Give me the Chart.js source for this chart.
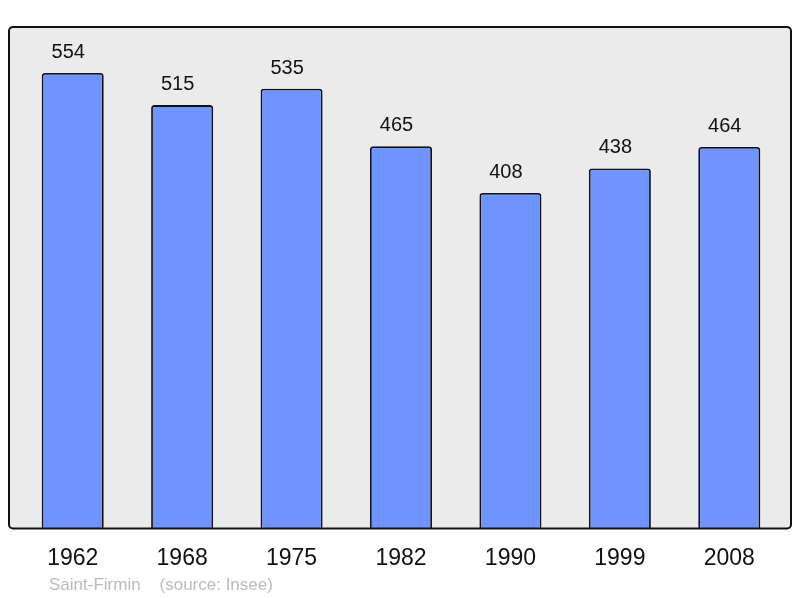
<!DOCTYPE html>
<html>
<head>
<meta charset="utf-8">
<script src="https://cdn.jsdelivr.net/npm/chart.js@4/dist/chart.umd.min.js"></script>
<style>
    body { margin: 0; background: #fff; }
    #wrap { position: relative; width: 800px; height: 598px; }
    #footer {
        position: absolute; left: 49px; top: 575px;
        font: 17px "Liberation Sans", Arial, sans-serif; color: #bbbbbb;
        white-space: pre;
    }
</style>
</head>
<body>
<div id="wrap">
    <canvas id="chart" width="800" height="598"></canvas>
    <div id="footer">Saint-Firmin    (source: Insee)</div>
</div>
<script>
const years = ['1962', '1968', '1975', '1982', '1990', '1999', '2008'];
const population = [554, 515, 535, 465, 408, 438, 464];

// grey rounded panel behind the bars, a bit wider than the chart area
const panelPlugin = {
    id: 'panel',
    beforeDraw(chart) {
        const { ctx, chartArea: a } = chart;
        ctx.save();
        ctx.beginPath();
        ctx.roundRect(a.left - 9, a.top, a.right - a.left + 16, a.bottom - a.top, 4);
        ctx.fillStyle = '#ebebeb';
        ctx.fill();
        ctx.restore();
    },
    afterDatasetsDraw(chart) {
        const { ctx, chartArea: a } = chart;
        ctx.save();
        ctx.beginPath();
        ctx.roundRect(a.left - 9, a.top, a.right - a.left + 16, a.bottom - a.top, 4);
        ctx.lineWidth = 2;
        ctx.strokeStyle = '#111';
        ctx.stroke();
        // value labels above the bars (sit slightly left of centre in the original)
        const meta = chart.getDatasetMeta(0);
        ctx.font = '20px "Liberation Sans", Arial, sans-serif';
        ctx.fillStyle = '#111';
        ctx.textAlign = 'center';
        ctx.textBaseline = 'middle';
        meta.data.forEach((bar, i) => {
            ctx.fillText(population[i], bar.x - 4.5, bar.y - 20.5);
        });
        ctx.restore();
    }
};

new Chart(document.getElementById('chart'), {
    type: 'bar',
    data: {
        labels: years,
        datasets: [{
            data: population,
            backgroundColor: '#7094ff',
            borderColor: '#111',
            borderWidth: 1.8,
            borderRadius: 3,
            borderSkipped: 'bottom',
            barPercentage: 0.567,
            categoryPercentage: 1
        }]
    },
    options: {
        responsive: false,
        animation: false,
        layout: { padding: { left: 18, right: 16, top: 27, bottom: 18 } },
        plugins: { legend: { display: false }, tooltip: { enabled: false } },
        scales: {
            y: { display: false, min: 0, max: 610 },
            x: {
                grid: { display: false },
                border: { display: false },
                ticks: {
                    color: '#111',
                    padding: 8,
                    font: { family: '"Liberation Sans", Arial, sans-serif', size: 23 }
                }
            }
        }
    },
    plugins: [panelPlugin]
});
</script>
</body>
</html>
